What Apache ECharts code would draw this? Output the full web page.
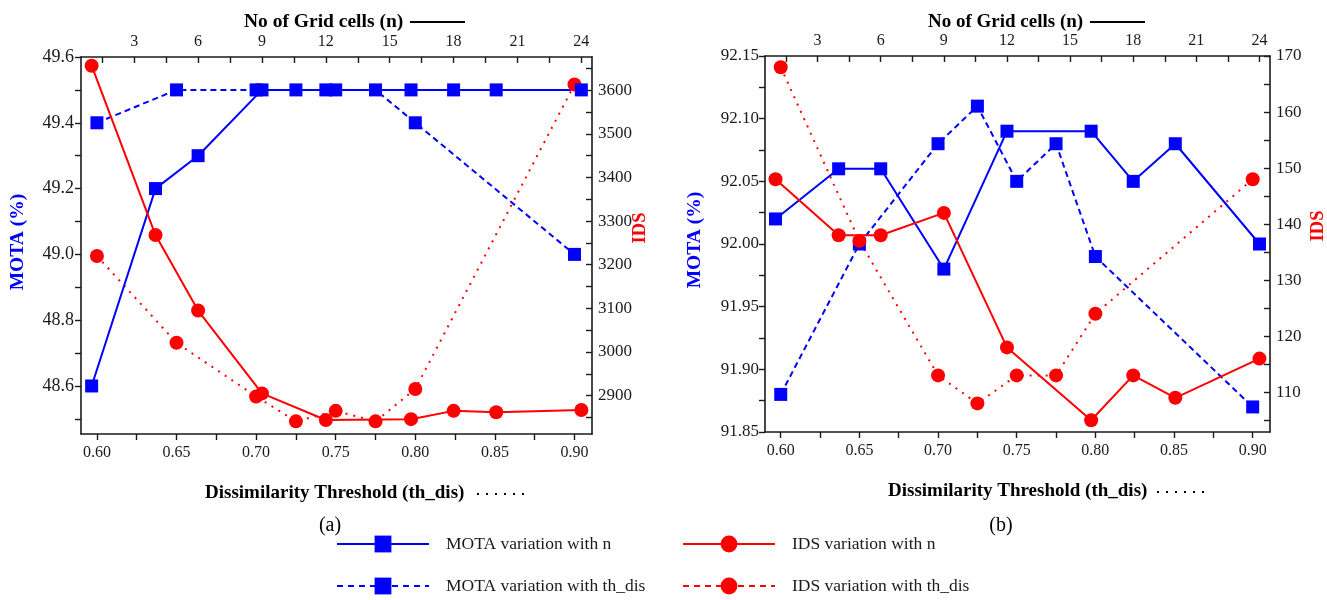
<!DOCTYPE html>
<html>
<head>
<meta charset="utf-8">
<script src="https://cdn.jsdelivr.net/npm/echarts@6/dist/echarts.min.js"></script>
<style>
html,body{margin:0;padding:0;background:#fff;}
#c{width:1327px;height:600px;}
</style>
</head>
<body>
<div id="c"></div>
<script>
// ---------- data ----------
const nCells = [1, 4, 6, 9, 12, 16, 18, 20, 24];
const thDis = [0.60, 0.65, 0.70, 0.725, 0.75, 0.775, 0.80, 0.90];

// panel (a)
const motaN_a  = [48.6, 49.2, 49.3, 49.5, 49.5, 49.5, 49.5, 49.5, 49.5];
const idsN_a   = [3656, 3268, 3095, 2905, 2844, 2846, 2865, 2862, 2867];
const motaTh_a = [49.4, 49.5, 49.5, 49.5, 49.5, 49.5, 49.4, 49.0];
const idsTh_a  = [3220, 3021, 2898, 2841, 2865, 2841, 2915, 3613];

// panel (b)
const motaN_b  = [92.02, 92.06, 92.06, 91.98, 92.09, 92.09, 92.05, 92.08, 92.00];
const idsN_b   = [148, 138, 138, 142, 118, 105, 113, 109, 116];
const motaTh_b = [91.88, 92.00, 92.08, 92.11, 92.05, 92.08, 91.99, 91.87];
const idsTh_b  = [168, 137, 113, 108, 113, 113, 124, 148];

// tick labels
const thTickLabels   = [0.60, 0.65, 0.70, 0.75, 0.80, 0.85, 0.90];
const nTickLabels    = [3, 6, 9, 12, 15, 18, 21, 24];
const motaTickLabelsA = [48.6, 48.8, 49.0, 49.2, 49.4, 49.6];
const idsTickLabelsA  = [2900, 3000, 3100, 3200, 3300, 3400, 3500, 3600];
const motaTickLabelsB = [91.85, 91.90, 91.95, 92.00, 92.05, 92.10, 92.15];
const idsTickLabelsB  = [110, 120, 130, 140, 150, 160, 170];

const legendNames = ['MOTA variation with n', 'IDS variation with n',
                     'MOTA variation with th_dis', 'IDS variation with th_dis'];

// ---------- helpers ----------
const FONT = 'Liberation Serif';
const BLUE = '#0000ff', RED = '#ff0000', INK = '#1a1a1a';

function withMinor(arr, lo, hi) {
  const out = [];
  const step = arr[1] - arr[0];
  const first = arr[0] - step / 2;
  for (let i = 0; i < arr.length * 2 + 2; i++) {
    const v = +(first + i * step / 2).toFixed(6);
    if (v >= lo - 1e-9 && v <= hi + 1e-9) out.push(v);
  }
  return out;
}
function pairs(xs, ys) { return xs.map((x, i) => [x, ys[i]]); }

function axis(gridIndex, position, min, max, labels, opts) {
  return {
    type: 'value', gridIndex, position, min, max,
    splitLine: { show: false },
    axisLine: { show: true, onZero: false, lineStyle: { color: INK, width: 1.6 } },
    axisTick: {
      show: true, inside: opts.inside, length: 6,
      customValues: withMinor(labels, min, max),
      lineStyle: { color: INK, width: 1.4 }
    },
    axisLabel: {
      customValues: labels, fontFamily: FONT, fontSize: opts.fs, color: INK,
      margin: opts.margin, formatter: v => (+v).toFixed(opts.dec)
    }
  };
}

const bottomMin = 0.59, bottomMax = 0.911;
const topMin = 0.5, topMax = 24.5;

const xAxis = [
  axis(0, 'bottom', bottomMin, bottomMax, thTickLabels, { inside: false, fs: 16, margin: 11, dec: 2 }),
  axis(0, 'top', topMin, topMax, nTickLabels, { inside: true, fs: 16, margin: 7, dec: 0 }),
  axis(1, 'bottom', bottomMin, bottomMax, thTickLabels, { inside: false, fs: 16, margin: 11, dec: 2 }),
  axis(1, 'top', topMin, topMax, nTickLabels, { inside: true, fs: 16, margin: 7, dec: 0 })
];
const yAxis = [
  axis(0, 'left', 48.454, 49.6, motaTickLabelsA, { inside: false, fs: 18, margin: 7, dec: 1 }),
  axis(0, 'right', 2812, 3676, idsTickLabelsA, { inside: true, fs: 17, margin: 6, dec: 0 }),
  axis(1, 'left', 91.85, 92.15, motaTickLabelsB, { inside: false, fs: 17, margin: 6, dec: 2 }),
  axis(1, 'right', 102.9, 170, idsTickLabelsB, { inside: true, fs: 17, margin: 6, dec: 0 })
];

function ser(name, xi, yi, data, color, symbol, lineType) {
  return {
    name, type: 'line', xAxisIndex: xi, yAxisIndex: yi, data,
    symbol, symbolSize: symbol === 'rect' ? 13 : 14,
    itemStyle: { color },
    lineStyle: { color, width: 2, type: lineType },
    emphasis: { disabled: true }, animation: false
  };
}

const series = [
  ser(legendNames[2], 0, 0, pairs(thDis, motaTh_a), BLUE, 'rect', [6, 4]),
  ser(legendNames[3], 0, 1, pairs(thDis, idsTh_a), RED, 'circle', [2, 6]),
  ser(legendNames[0], 1, 0, pairs(nCells, motaN_a), BLUE, 'rect', 'solid'),
  ser(legendNames[1], 1, 1, pairs(nCells, idsN_a), RED, 'circle', 'solid'),
  ser(legendNames[2], 2, 2, pairs(thDis, motaTh_b), BLUE, 'rect', [6, 4]),
  ser(legendNames[3], 2, 3, pairs(thDis, idsTh_b), RED, 'circle', [2, 6]),
  ser(legendNames[0], 3, 2, pairs(nCells, motaN_b), BLUE, 'rect', 'solid'),
  ser(legendNames[1], 3, 3, pairs(nCells, idsN_b), RED, 'circle', 'solid')
];

function leg(name, left, top, dashed) {
  const item = { name };
  if (dashed) item.lineStyle = { type: [6, 5], width: 2 };
  return {
    left, top, padding: 0, itemWidth: 92, itemHeight: 21,
    selectedMode: false, data: [item],
    textStyle: { fontFamily: FONT, fontSize: 17.5, color: INK, padding: [0, 0, 0, 12] }
  };
}

function title(text, x, y, fs) {
  return {
    type: 'text', x, y,
    style: { text, fontFamily: FONT, fontSize: fs, fontWeight: 'bold', fill: '#000',
             textVerticalAlign: 'middle' }
  };
}
function vtitle(text, x, y, color, fs) {
  return {
    type: 'text', x, y, rotation: Math.PI / 2,
    style: { text, fontFamily: FONT, fontSize: fs, fontWeight: 'bold', fill: color,
             textAlign: 'center', textVerticalAlign: 'middle' }
  };
}
function hline(x1, x2, y, dash) {
  return {
    type: 'line', shape: { x1, y1: y, x2, y2: y },
    style: { stroke: '#000', lineWidth: 2, lineDash: dash || null }
  };
}

const option = {
  backgroundColor: '#fff',
  animation: false,
  grid: [
    { left: 81, top: 57, width: 511, height: 377 },
    { left: 765, top: 56, width: 505, height: 376 }
  ],
  xAxis, yAxis, series,
  legend: [
    leg(legendNames[0], 336, 535, false),
    leg(legendNames[1], 682, 535, false),
    leg(legendNames[2], 336, 577, true),
    leg(legendNames[3], 682, 577, true)
  ],
  graphic: [
    title('No of Grid cells (n)', 244, 22, 19.5),
    hline(410, 465, 22),
    title('No of Grid cells (n)', 928, 22, 19),
    hline(1090, 1145, 22),
    title('Dissimilarity Threshold (th_dis)', 205, 493, 19),
    hline(477, 528, 494, [2, 7]),
    title('Dissimilarity Threshold (th_dis)', 888, 491, 19),
    hline(1157, 1208, 492, [2, 7]),
    vtitle('MOTA (%)', 18, 242, BLUE, 19.5),
    vtitle('IDS', 640, 228, RED, 18.5),
    vtitle('MOTA (%)', 695, 240, BLUE, 19.5),
    vtitle('IDS', 1318, 226, RED, 18.5),
    { type: 'text', x: 330, y: 526, style: { text: '(a)', fontFamily: FONT, fontSize: 20, fill: '#000', textAlign: 'center', textVerticalAlign: 'middle' } },
    { type: 'text', x: 1001, y: 526, style: { text: '(b)', fontFamily: FONT, fontSize: 20, fill: '#000', textAlign: 'center', textVerticalAlign: 'middle' } }
  ]
};

const chart = echarts.init(document.getElementById('c'), null, { renderer: 'canvas' });
chart.setOption(option);
</script>
</body>
</html>
